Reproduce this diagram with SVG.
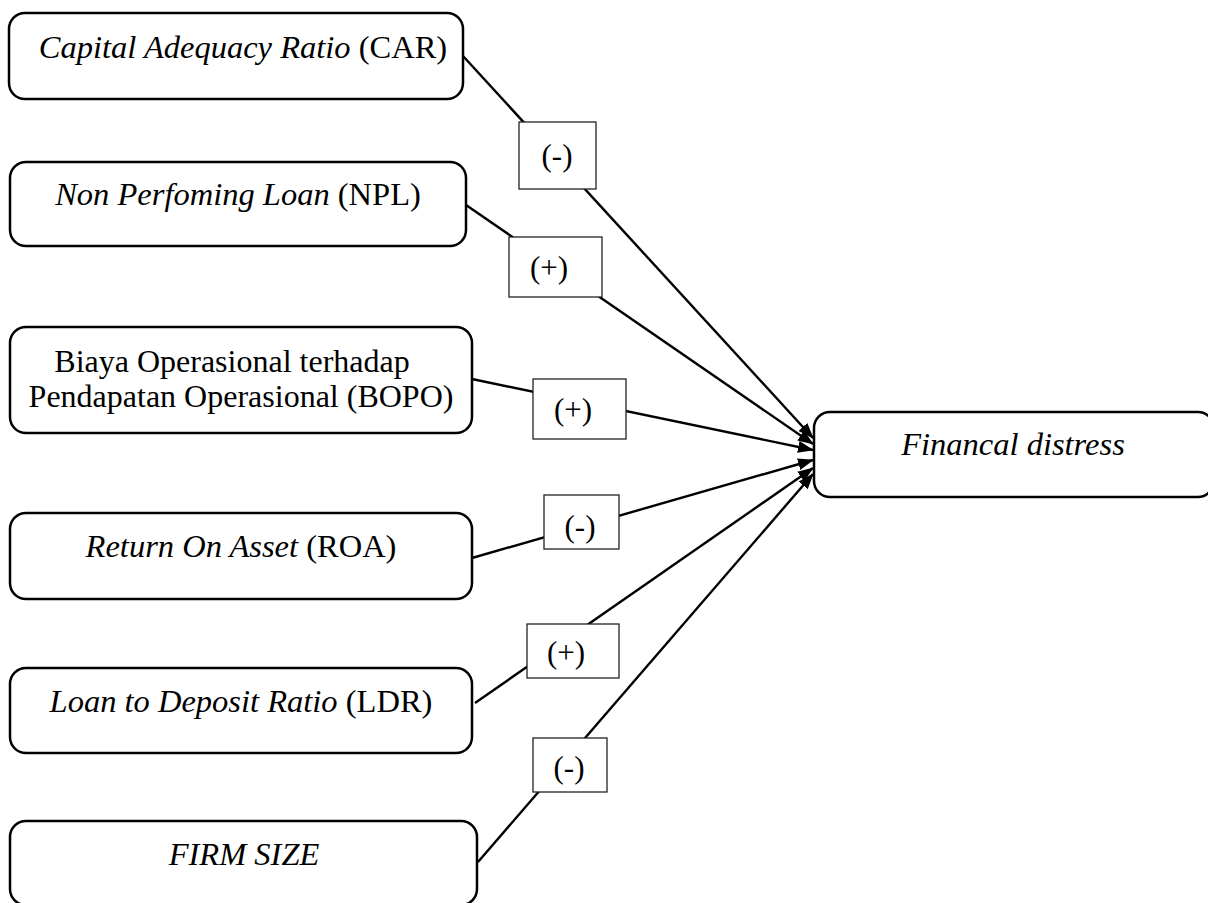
<svg xmlns="http://www.w3.org/2000/svg" width="1208" height="903" viewBox="0 0 1208 903">
<defs>
<marker id="arr" markerWidth="16" markerHeight="12" refX="15" refY="6" orient="auto" markerUnits="userSpaceOnUse" viewBox="0 0 16 12">
<path d="M0,0 L16,6 L0,12 Z" fill="#000"/>
</marker>
<style>
.node{fill:#fff;stroke:#000;stroke-width:2.5}
.lbl{fill:#fff;stroke:#222;stroke-width:1.3}
.t{font-family:"Liberation Serif","Times New Roman",serif;font-size:32.5px;fill:#000;text-anchor:middle}
.s{font-size:31px}
.b{font-size:32px}
.i{font-style:italic}
.c{stroke:#000;stroke-width:2.4;fill:none;marker-end:url(#arr)}
</style>
</defs>
<rect width="1208" height="903" fill="#fff"/>
<g id="connectors">
<line class="c" x1="463" y1="56" x2="813" y2="438"/>
<line class="c" x1="466" y1="205" x2="813" y2="444"/>
<line class="c" x1="472" y1="379" x2="813" y2="450"/>
<line class="c" x1="472" y1="558" x2="813" y2="460"/>
<line class="c" x1="475" y1="703" x2="813" y2="468"/>
<line class="c" x1="478" y1="862" x2="813" y2="474"/>
</g>
<g id="node-car">
<rect class="node" x="9" y="13" width="454" height="86" rx="16"/>
<text class="t" x="243" y="58"><tspan class="i">Capital Adequacy Ratio</tspan> (CAR)</text>
</g>
<g id="node-npl">
<rect class="node" x="10" y="162" width="456" height="84" rx="16"/>
<text class="t" x="238" y="205"><tspan class="i">Non Perfoming Loan</tspan> (NPL)</text>
</g>
<g id="node-bopo">
<rect class="node" x="10" y="327" width="462" height="106" rx="16"/>
<text class="t b" x="232" y="372">Biaya Operasional terhadap</text>
<text class="t b" x="241" y="407">Pendapatan Operasional (BOPO)</text>
</g>
<g id="node-roa">
<rect class="node" x="10" y="513" width="462" height="86" rx="16"/>
<text class="t" x="241" y="557"><tspan class="i">Return On Asset</tspan> (ROA)</text>
</g>
<g id="node-ldr">
<rect class="node" x="10" y="668" width="462" height="85" rx="16"/>
<text class="t" x="241" y="712"><tspan class="i">Loan to Deposit Ratio</tspan> (LDR)</text>
</g>
<g id="node-firm">
<rect class="node" x="10" y="821" width="467" height="84" rx="16"/>
<text class="t i" x="244" y="865">FIRM SIZE</text>
</g>
<g id="node-fd">
<rect class="node" x="814" y="412" width="400" height="85" rx="16"/>
<text class="t i" x="1013" y="455">Financal distress</text>
</g>
<g id="label-car">
<rect class="lbl" x="519" y="122" width="77" height="67"/>
<text class="t s" x="557" y="166">(-)</text>
</g>
<g id="label-npl">
<rect class="lbl" x="509" y="237" width="93" height="60"/>
<text class="t s" x="549" y="278">(+)</text>
</g>
<g id="label-bopo">
<rect class="lbl" x="533" y="379" width="93" height="60"/>
<text class="t s" x="573" y="420">(+)</text>
</g>
<g id="label-roa">
<rect class="lbl" x="544" y="495" width="75" height="54"/>
<text class="t s" x="580" y="537">(-)</text>
</g>
<g id="label-ldr">
<rect class="lbl" x="527" y="624" width="92" height="54"/>
<text class="t s" x="566" y="663">(+)</text>
</g>
<g id="label-firm">
<rect class="lbl" x="533" y="738" width="74" height="54"/>
<text class="t s" x="569" y="778">(-)</text>
</g>
</svg>
